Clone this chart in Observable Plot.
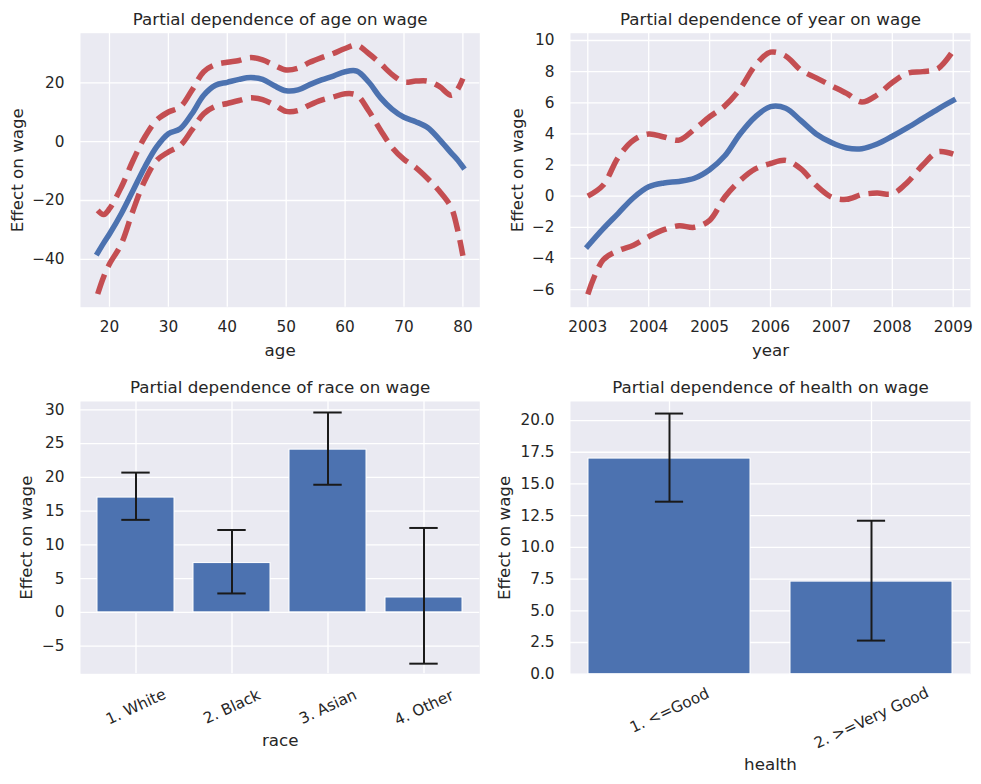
<!DOCTYPE html>
<html>
<head>
<meta charset="utf-8">
<script src="https://cdn.jsdelivr.net/npm/d3@7"></script>
<script src="https://cdn.jsdelivr.net/npm/@observablehq/plot@0.6"></script>
<style>
  body { margin: 0; background: #ffffff; }
  #fig { position: relative; width: 981px; height: 784px; }
  #fig svg { position: absolute; }
</style>
</head>
<body>
<div id="fig"></div>
<script>
// ---- Partial dependence of age on wage ----
const ageGrid  = [18, 19, 20, 22, 24, 26, 28, 30, 32, 34, 36, 38, 40, 42, 44, 46, 48, 50, 52, 54, 56, 58, 60, 62, 64, 66, 68, 70, 72, 74, 76, 78, 79, 80];
const ageFit   = [-37.8, -34.5, -31.4, -24.5, -16.6, -8.6, -1.8, 2.7, 4.4, 9.5, 15.8, 19.2, 20.2, 21.2, 21.8, 21.2, 19.0, 17.3, 17.6, 19.4, 21.0, 22.3, 23.8, 24.0, 20.3, 15.0, 11.0, 8.3, 6.8, 4.8, 0.8, -3.8, -6.0, -8.6];
const ageUpper = [-23.4, -24.8, -22.8, -15.5, -6.4, 1.6, 7.3, 10.1, 11.8, 17.5, 23.8, 26.2, 27.0, 27.6, 28.6, 27.8, 26.0, 24.4, 25.0, 27.0, 28.6, 30.0, 31.7, 32.8, 30.0, 26.6, 22.8, 20.3, 20.6, 20.6, 18.8, 15.8, 17.5, 21.5];
const ageLower = [-51.8, -46.0, -41.6, -34.8, -23.4, -13.2, -6.4, -3.5, -1.3, 4.0, 9.5, 12.0, 13.0, 14.0, 14.9, 14.3, 12.5, 10.3, 10.6, 12.5, 14.1, 15.2, 16.3, 15.8, 10.5, 4.0, -2.0, -6.0, -8.8, -12.5, -16.8, -22.3, -29.1, -38.8];
const ageXTicks = [20, 30, 40, 50, 60, 70, 80];
const ageYTicks = [-40, -20, 0, 20];

// ---- Partial dependence of year on wage ----
const yearGrid  = [2003, 2003.25, 2003.5, 2003.75, 2004, 2004.25, 2004.5, 2004.75, 2005, 2005.25, 2005.5, 2005.75, 2006, 2006.25, 2006.5, 2006.75, 2007, 2007.25, 2007.5, 2007.75, 2008, 2008.25, 2008.5, 2008.75, 2009];
const yearFit   = [-3.2, -2.1, -1.1, -0.1, 0.6, 0.85, 0.95, 1.15, 1.7, 2.6, 4.0, 5.1, 5.75, 5.65, 4.85, 4.0, 3.45, 3.1, 3.05, 3.35, 3.85, 4.4, 5.0, 5.6, 6.15];
const yearUpper = [0.0, 0.7, 2.5, 3.6, 4.0, 3.8, 3.6, 4.3, 5.1, 5.8, 6.9, 8.4, 9.25, 9.0, 8.1, 7.6, 7.1, 6.6, 6.05, 6.5, 7.3, 7.9, 8.0, 8.2, 9.35];
const yearLower = [-6.3, -4.1, -3.5, -3.15, -2.6, -2.15, -1.9, -2.0, -1.55, -0.05, 1.0, 1.75, 2.1, 2.3, 1.75, 0.7, -0.05, -0.2, 0.1, 0.2, 0.15, 0.9, 2.0, 2.85, 2.7];
const yearXTicks = [2003, 2004, 2005, 2006, 2007, 2008, 2009];
const yearYTicks = [-6, -4, -2, 0, 2, 4, 6, 8, 10];

// ---- Partial dependence of race on wage ----
const raceLevels = ["1. White", "2. Black", "3. Asian", "4. Other"];
const raceEffect = [17.0, 7.3, 24.1, 2.2];
const raceLow    = [13.7, 2.8, 18.9, -7.6];
const raceHigh   = [20.7, 12.2, 29.6, 12.5];
const raceYTicks = [-5, 0, 5, 10, 15, 20, 25, 30];

// ---- Partial dependence of health on wage ----
const healthLevels = ["1. <=Good", "2. >=Very Good"];
const healthEffect = [17.0, 7.3];
const healthLow    = [13.6, 2.65];
const healthHigh   = [20.55, 12.1];
const healthYTicks = [0, 2.5, 5, 7.5, 10, 12.5, 15, 17.5, 20];

const INK = "#262626", BG = "#EAEAF2", BLUE = "#4C72B0", RED = "#C44E52", BAR_ERR = "#1a1a1a";
const TICK_FS = 15.3, LABEL_FS = 16.7;
const fig = document.getElementById("fig");

const curveRows = (xs, fit, lo, hi) => xs.map((x, i) => ({x, fit: fit[i], lo: lo[i], hi: hi[i]}));
const barRows = (cats, v, lo, hi) => cats.map((c, i) => ({cat: c, v: v[i], lo: lo[i], hi: hi[i]}));

function place(svg, left, top) {
  svg.style.left = left + "px";
  svg.style.top = top + "px";
  fig.appendChild(svg);
}

function decorations({title, xLabel, xLabelDy, yLabelDx}) {
  return [
    Plot.text([title], {text: d => d, frameAnchor: "top", dy: -8.3, textAnchor: "middle", lineAnchor: "bottom", fontSize: LABEL_FS, fill: INK}),
    Plot.text([xLabel], {text: d => d, frameAnchor: "bottom", dy: xLabelDy, textAnchor: "middle", lineAnchor: "middle", fontSize: LABEL_FS, fill: INK}),
    Plot.text(["Effect on wage"], {text: d => d, frameAnchor: "left", dx: yLabelDx, rotate: -90, textAnchor: "middle", lineAnchor: "middle", fontSize: LABEL_FS, fill: INK})
  ];
}

const lineStyle = {strokeWidth: 5.5, curve: "catmull-rom"};

function curvePanel({rows, xDomain, yDomain, xTicks, yTicks, xFormat, yFormat, width, height, margins, deco}) {
  return Plot.plot({
    width, height, ...margins,
    style: {fontFamily: "DejaVu Sans", fontSize: TICK_FS + "px", color: INK, background: "transparent", overflow: "visible"},
    x: {domain: xDomain},
    y: {domain: yDomain},
    marks: [
      Plot.frame({fill: BG, stroke: "none"}),
      Plot.gridX({ticks: xTicks, stroke: "white", strokeOpacity: 1, strokeWidth: 1.3}),
      Plot.gridY({ticks: yTicks, stroke: "white", strokeOpacity: 1, strokeWidth: 1.3}),
      Plot.line(rows, {x: "x", y: "hi", stroke: RED, strokeDasharray: "20.5,8.9", strokeLinecap: "butt", ...lineStyle}),
      Plot.line(rows, {x: "x", y: "lo", stroke: RED, strokeDasharray: "20.5,8.9", strokeLinecap: "butt", ...lineStyle}),
      Plot.line(rows, {x: "x", y: "fit", stroke: BLUE, strokeLinecap: "square", ...lineStyle}),
      Plot.axisX({ticks: xTicks, tickFormat: xFormat, tickSize: 0, tickPadding: 14, label: null, fill: INK}),
      Plot.axisY({ticks: yTicks, tickFormat: yFormat, tickSize: 0, tickPadding: 16, label: null, fill: INK}),
      ...decorations(deco)
    ]
  });
}

// Rotated category labels hang from a common top edge, so longer labels sit lower:
// each level gets its own axis mark with its own padding.
function barPanel({rows, levels, yDomain, yTicks, yFormat, paddingOuter, capInset, labelPads, width, height, margins, deco}) {
  return Plot.plot({
    width, height, ...margins,
    style: {fontFamily: "DejaVu Sans", fontSize: TICK_FS + "px", color: INK, background: "transparent", overflow: "visible"},
    x: {domain: levels, paddingInner: 0.2, paddingOuter},
    y: {domain: yDomain},
    marks: [
      Plot.frame({fill: BG, stroke: "none"}),
      Plot.gridX({stroke: "white", strokeOpacity: 1, strokeWidth: 1.3}),
      Plot.gridY({ticks: yTicks, stroke: "white", strokeOpacity: 1, strokeWidth: 1.3}),
      Plot.barY(rows, {x: "cat", y: "v", fill: BLUE, stroke: "white", strokeWidth: 1}),
      Plot.ruleX(rows, {x: "cat", y1: "lo", y2: "hi", stroke: BAR_ERR, strokeWidth: 2}),
      Plot.tickY(rows, {x: "cat", y: "lo", stroke: BAR_ERR, strokeWidth: 2, insetLeft: capInset, insetRight: capInset}),
      Plot.tickY(rows, {x: "cat", y: "hi", stroke: BAR_ERR, strokeWidth: 2, insetLeft: capInset, insetRight: capInset}),
      ...levels.map((level, i) => Plot.axisX({ticks: [level], tickSize: 0, tickPadding: labelPads[i], tickRotate: -25, textAnchor: "middle", lineAnchor: "middle", label: null, fill: INK})),
      Plot.axisY({ticks: yTicks, tickFormat: yFormat, tickSize: 0, tickPadding: 16, label: null, fill: INK}),
      ...decorations(deco)
    ]
  });
}

const intFmt = d3.format("d");

place(curvePanel({
  rows: curveRows(ageGrid, ageFit, ageLower, ageUpper),
  xDomain: [15.08, 82.87], yDomain: [-56.3, 36.9],
  xTicks: ageXTicks, yTicks: ageYTicks, xFormat: intFmt, yFormat: intFmt,
  width: 490, height: 370,
  margins: {marginLeft: 80, marginRight: 10.7, marginTop: 32.7, marginBottom: 63.3},
  deco: {title: "Partial dependence of age on wage", xLabel: "age", xLabelDy: 43.3, yLabelDx: -63}
}), 0, 0);

place(curvePanel({
  rows: curveRows(yearGrid, yearFit, yearLower, yearUpper),
  xDomain: [2002.716, 2009.284], yDomain: [-7.13, 10.47],
  xTicks: yearXTicks, yTicks: yearYTicks, xFormat: intFmt, yFormat: intFmt,
  width: 491, height: 370,
  margins: {marginLeft: 80, marginRight: 11, marginTop: 32.7, marginBottom: 63.3},
  deco: {title: "Partial dependence of year on wage", xLabel: "year", xLabelDy: 43.3, yLabelDx: -53.3}
}), 490, 0);

place(barPanel({
  rows: barRows(raceLevels, raceEffect, raceLow, raceHigh),
  levels: raceLevels, yDomain: [-9.1, 31.23], yTicks: raceYTicks, yFormat: intFmt,
  paddingOuter: 0.175, capInset: 24.3, labelPads: [33, 33, 33, 34],
  width: 490, height: 414,
  margins: {marginLeft: 80, marginRight: 10.7, marginTop: 31, marginBottom: 110.7},
  deco: {title: "Partial dependence of race on wage", xLabel: "race", xLabelDy: 66.7, yLabelDx: -54}
}), 0, 370);

place(barPanel({
  rows: barRows(healthLevels, healthEffect, healthLow, healthHigh),
  levels: healthLevels, yDomain: [0, 21.5], yTicks: healthYTicks, yFormat: d3.format(".1f"),
  paddingOuter: 0.089, capInset: 66.9, labelPads: [36.3, 43.8],
  width: 491, height: 414,
  margins: {marginLeft: 80, marginRight: 11, marginTop: 31, marginBottom: 110.3},
  deco: {title: "Partial dependence of health on wage", xLabel: "health", xLabelDy: 90, yLabelDx: -65.5}
}), 490, 370);
</script>
</body>
</html>
